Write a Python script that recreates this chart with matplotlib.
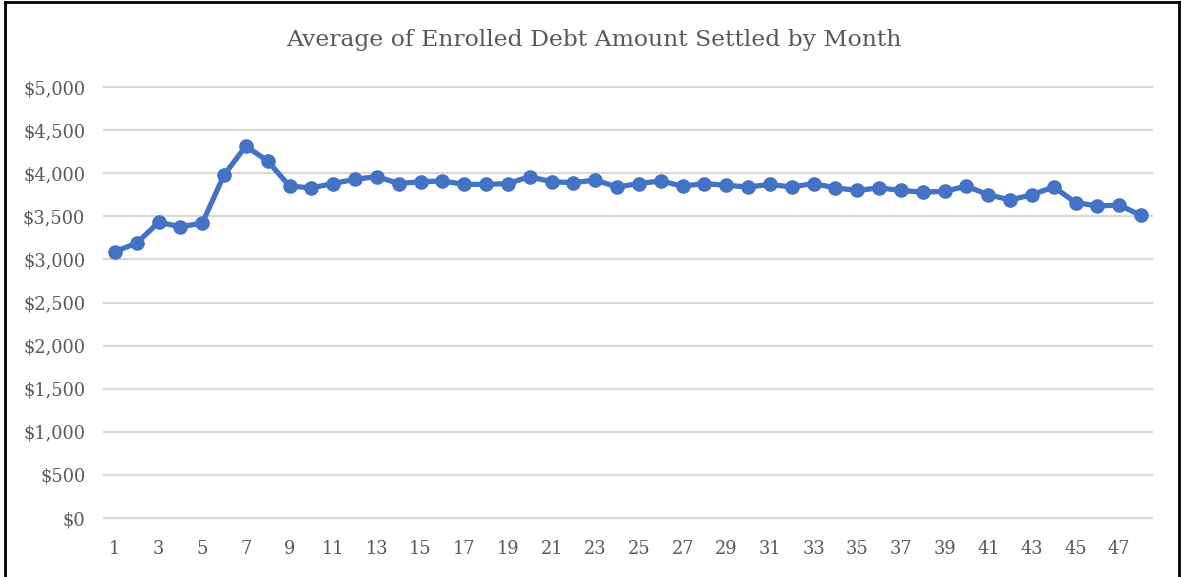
import matplotlib.pyplot as plt
from matplotlib.lines import Line2D
from matplotlib.ticker import FuncFormatter

months = list(range(1, 49))
avg_settled = [3090, 3190, 3430, 3380, 3420, 3980, 4315, 4140, 3850, 3830,
               3880, 3930, 3960, 3880, 3900, 3910, 3870, 3870, 3880, 3960,
               3900, 3890, 3920, 3840, 3880, 3910, 3850, 3880, 3860, 3840,
               3870, 3840, 3880, 3830, 3800, 3830, 3800, 3780, 3790, 3850,
               3750, 3690, 3750, 3840, 3660, 3620, 3630, 3510]
tick_months = list(range(1, 48, 2))
y_ticks = list(range(0, 5001, 500))

font = 'DejaVu Serif'
grey = '#595959'

fig = plt.figure(figsize=(11.81, 5.77), dpi=100)
ax = fig.add_axes([104 / 1181, 59 / 577, 1048 / 1181, 431 / 577])

ax.plot(months, avg_settled, color='#4472C4', lw=3.8, marker='o', ms=9.5,
        solid_joinstyle='round', zorder=3)

ax.set_xlim(0.5, 48.5)
ax.set_ylim(0, 5000)
ax.set_yticks(y_ticks)
ax.set_xticks(tick_months)
ax.yaxis.set_major_formatter(FuncFormatter(lambda v, p: '${:,.0f}'.format(v)))
ax.grid(axis='y', color='#D9D9D9', lw=1.6)
for gl in ax.get_ygridlines():
    gl.set_clip_on(False)
ax.set_axisbelow(True)
for s in ax.spines.values():
    s.set_visible(False)
ax.tick_params(length=0, labelsize=12.8, labelcolor=grey)
ax.tick_params(axis='y', pad=13.5)
ax.tick_params(axis='x', pad=16)
for lab in ax.get_xticklabels() + ax.get_yticklabels():
    lab.set_family(font)

fig.text(594 / 1181, 1 - 40 / 577, 'Average of Enrolled Debt Amount Settled by Month',
         ha='center', va='center', fontsize=16.9, color=grey, family=font)

# black frame around the chart
for xs, ys in [([0.004, 0.004], [0, 0.997]), ([0.004, 0.998], [0.997, 0.997]),
               ([0.998, 0.998], [0, 0.997])]:
    fig.add_artist(Line2D(xs, ys, color='black', lw=2, transform=fig.transFigure))

fig.savefig('out.png', dpi=100)
